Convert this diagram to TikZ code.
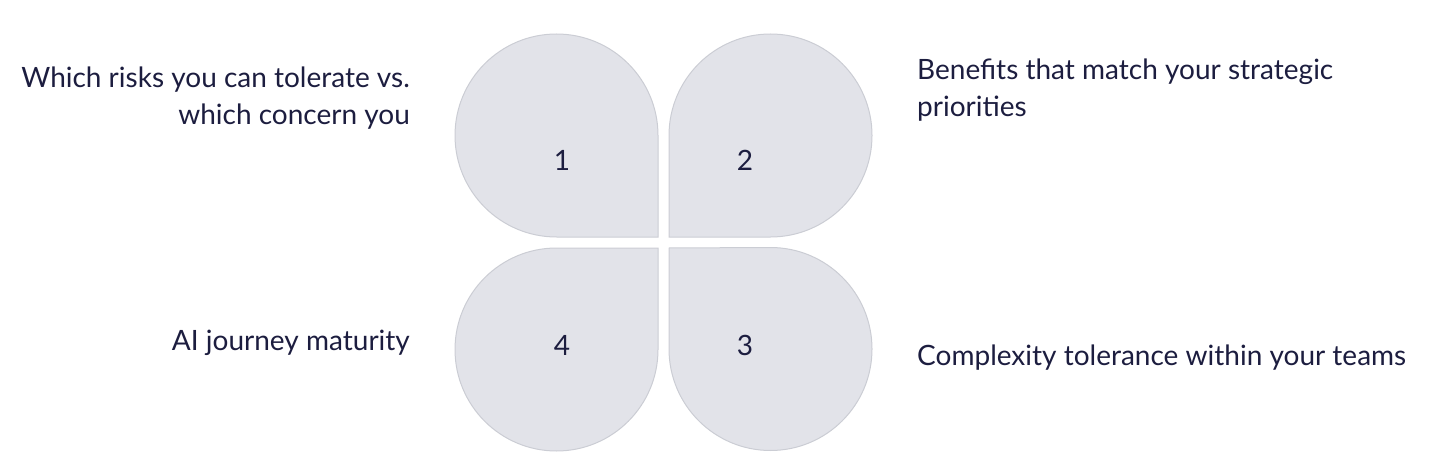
\documentclass[tikz,border=0pt]{standalone}
\usepackage{fontspec}
\setmainfont{Lato}
\usepackage{xcolor}
\definecolor{petalfill}{HTML}{E2E3E9}
\definecolor{petalline}{HTML}{CBCDD4}
\definecolor{navy}{HTML}{1C1D3F}
\tikzset{petal/.style={fill=petalfill,draw=petalline,line width=1pt},
 num/.style={text=navy,font=\fontsize{28}{32}\selectfont,inner sep=0pt},
 label/.style={text=navy,font=\fontsize{28}{37}\selectfont,inner sep=0pt},
 }

\begin{document}
\begin{tikzpicture}[x=1pt,y=1pt]
        \useasboundingbox (0,0) rectangle (1431,461);
        \path[petal] (658,224) -- (658,325.5) arc[start angle=0,end angle=270,radius=101.5] -- cycle;
        \path[petal] (669,224) -- (770.5,224) arc[start angle=-90,end angle=180,radius=101.5] -- cycle;
        \path[petal] (669,213) -- (669,112) arc[start angle=180,end angle=450,radius=101.5] -- cycle;
        \path[petal] (658,213) -- (556.5,213) arc[start angle=90,end angle=360,radius=101.5] -- cycle;
        \node[num] (one) at (562,301) {1};
        \node[num] (two) at (745,301) {2};
        \node[num] (three) at (745,116) {3};
        \node[num] (four) at (562,116) {4};
        \node[label,anchor=base east,align=right] (risks) at (410,336) {Which risks you can tolerate vs.\\which concern you};
        \node[label,anchor=base west,align=left] (benefits) at (917,344) {Benefits that match your strategic\\priorities};
        \node[label,anchor=base east] (maturity) at (410,111) {AI journey maturity};
        \node[label,anchor=base west] (complexity) at (917,96) {Complexity tolerance within your teams};
    \end{tikzpicture}
\end{document}
